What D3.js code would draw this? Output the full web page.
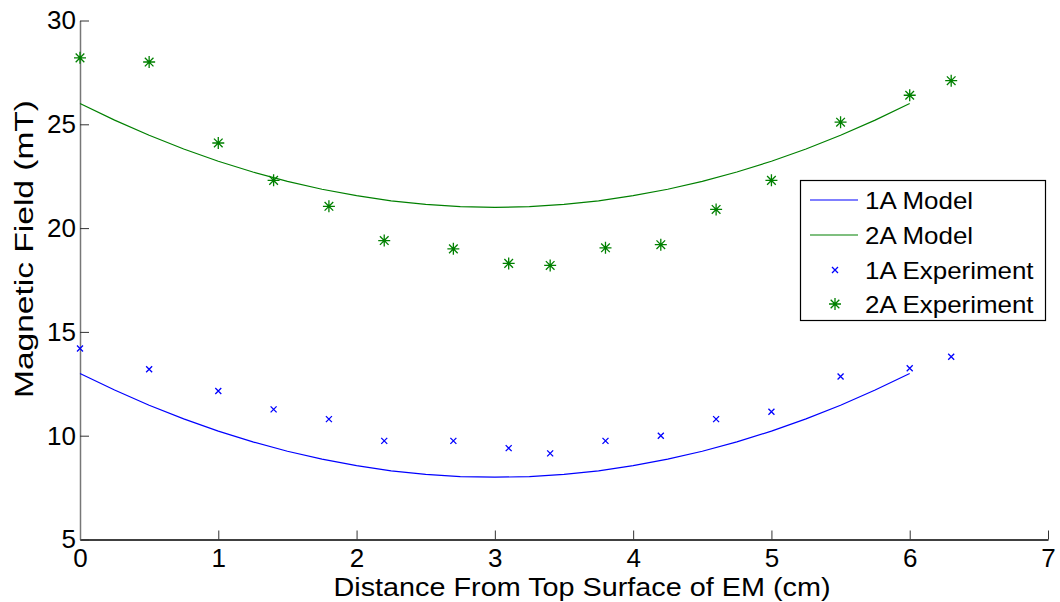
<!DOCTYPE html>
<html>
<head>
<meta charset="utf-8">
<script src="https://cdn.jsdelivr.net/npm/d3@7"></script>
<style>
  html, body { margin: 0; padding: 0; background: #fff; }
  svg { display: block; }
  text { font-family: "Liberation Sans", Arial, sans-serif; fill: #000; }
</style>
</head>
<body>
<svg id="chart" width="1060" height="602"></svg>
<script>
// Measurement positions (cm) and measured field (mT)
const expX = [0, 0.5, 1.0, 1.4, 1.8, 2.2, 2.7, 3.1, 3.4, 3.8, 4.2, 4.6, 5.0, 5.5, 6.0, 6.3];
const exp1A = [14.2, 13.2, 12.15, 11.27, 10.8, 9.75, 9.75, 9.4, 9.15, 9.75, 10.0, 10.8, 11.15, 12.85, 13.25, 13.8];
const exp2A = [28.2, 28.0, 24.1, 22.3, 21.05, 19.4, 19.0, 18.3, 18.2, 19.05, 19.2, 20.9, 22.3, 25.1, 26.4, 27.1];

// Model curves sampled along the distance axis
const modelX = [0, 0.25, 0.5, 0.75, 1.0, 1.25, 1.5, 1.75, 2.0, 2.25, 2.5, 2.75, 3.0,
                3.25, 3.5, 3.75, 4.0, 4.25, 4.5, 4.75, 5.0, 5.25, 5.5, 5.75, 6.0];
const model1A = [13.0, 12.2, 11.47, 10.81, 10.22, 9.7, 9.25, 8.87, 8.56, 8.31, 8.14, 8.03, 8.0,
                 8.03, 8.14, 8.31, 8.56, 8.87, 9.25, 9.7, 10.22, 10.81, 11.47, 12.2, 13.0];
const model2A = [26.0, 25.2, 24.47, 23.81, 23.22, 22.7, 22.25, 21.87, 21.56, 21.31, 21.14, 21.03, 21.0,
                 21.03, 21.14, 21.31, 21.56, 21.87, 22.25, 22.7, 23.22, 23.81, 24.47, 25.2, 26.0];

const xTicks = [0, 1, 2, 3, 4, 5, 6, 7];
const yTicks = [5, 10, 15, 20, 25, 30];
const legendLabels = ["1A Model", "2A Model", "1A Experiment", "2A Experiment"];

const BLUE = "#0000ff", GREEN = "#008000";
const FONT = "Liberation Sans, Arial, sans-serif";

const svg = d3.select("#chart");
const x = d3.scaleLinear().domain([0, 7]).range([80, 1048]);
const y = d3.scaleLinear().domain([5, 30]).range([539.5, 20.5]);

// Axes (ticks point inward)
const xAxis = d3.axisBottom(x).tickValues(xTicks).tickSizeInner(-9).tickSizeOuter(0).tickPadding(9).tickFormat(d3.format("d"));
const yAxis = d3.axisLeft(y).tickValues(yTicks).tickSizeInner(-9).tickSizeOuter(0).tickPadding(4).tickFormat(d3.format("d"));

const gx = svg.append("g").attr("transform", `translate(0,${y(5)})`).call(xAxis);
gx.select(".domain").attr("stroke", "#000").attr("stroke-width", 1.5);
gx.selectAll(".tick line").attr("stroke", "#333");
gx.selectAll(".tick text").attr("font-size", 26).attr("font-family", FONT);

const gy = svg.append("g").attr("transform", `translate(${x(0)},0)`).call(yAxis);
gy.select(".domain").attr("stroke", "#777").attr("stroke-width", 1.5);
gy.selectAll(".tick line").attr("stroke", "#333");
gy.selectAll(".tick text").attr("font-size", 26).attr("font-family", FONT);

// Axis titles
svg.append("text")
  .attr("x", 582).attr("y", 595.5)
  .attr("text-anchor", "middle").attr("font-size", 25)
  .attr("textLength", 497).attr("lengthAdjust", "spacingAndGlyphs")
  .text("Distance From Top Surface of EM (cm)");
svg.append("text")
  .attr("transform", "translate(33,249) rotate(-90)")
  .attr("text-anchor", "middle").attr("font-size", 26)
  .attr("textLength", 298).attr("lengthAdjust", "spacingAndGlyphs")
  .text("Magnetic Field (mT)");

// Model curves
const line = d3.line().x(d => x(d[0])).y(d => y(d[1]));
svg.append("path").datum(d3.zip(modelX, model1A))
  .attr("d", line).attr("fill", "none").attr("stroke", BLUE).attr("stroke-width", 1.2);
svg.append("path").datum(d3.zip(modelX, model2A))
  .attr("d", line).attr("fill", "none").attr("stroke", GREEN).attr("stroke-width", 1.2);

// Marker shapes
function crossPath(r) {
  return `M${-r},${-r}L${r},${r}M${-r},${r}L${r},${-r}`;
}
function starPath(r) {
  const d = r * 0.72;
  return `M${-r},0L${r},0M0,${-r}L0,${r}M${-d},${-d}L${d},${d}M${-d},${d}L${d},${-d}`;
}

svg.append("g").selectAll("path").data(d3.zip(expX, exp1A)).join("path")
  .attr("transform", d => `translate(${x(d[0])},${y(d[1])})`)
  .attr("d", crossPath(3)).attr("fill", "none").attr("stroke", BLUE).attr("stroke-width", 1.3);

svg.append("g").selectAll("path").data(d3.zip(expX, exp2A)).join("path")
  .attr("transform", d => `translate(${x(d[0])},${y(d[1])})`)
  .attr("d", starPath(6)).attr("fill", "none").attr("stroke", GREEN).attr("stroke-width", 1.3);

// Legend
const lg = svg.append("g");
lg.append("rect").attr("x", 800.5).attr("y", 180.5).attr("width", 245).attr("height", 140)
  .attr("fill", "#fff").attr("stroke", "#000").attr("stroke-width", 1.2);
const rowY = [200, 235, 270, 304];
legendLabels.forEach((lab, i) => {
  const cy = rowY[i];
  if (i === 0 || i === 1) {
    lg.append("line").attr("x1", 810).attr("x2", 858).attr("y1", cy).attr("y2", cy)
      .attr("stroke", i === 0 ? BLUE : GREEN).attr("stroke-width", 1.2);
  } else if (i === 2) {
    lg.append("path").attr("transform", `translate(835,${cy})`).attr("d", crossPath(3))
      .attr("fill", "none").attr("stroke", BLUE).attr("stroke-width", 1.3);
  } else {
    lg.append("path").attr("transform", `translate(835,${cy})`).attr("d", starPath(6))
      .attr("fill", "none").attr("stroke", GREEN).attr("stroke-width", 1.3);
  }
  const t = lg.append("text").attr("x", 865).attr("y", cy).attr("dy", "0.36em")
    .attr("font-size", 24).text(lab);
  // glyphs are set slightly wide
  const w = t.node().getComputedTextLength();
  t.attr("textLength", w * 1.08).attr("lengthAdjust", "spacingAndGlyphs");
});
</script>
</body>
</html>
